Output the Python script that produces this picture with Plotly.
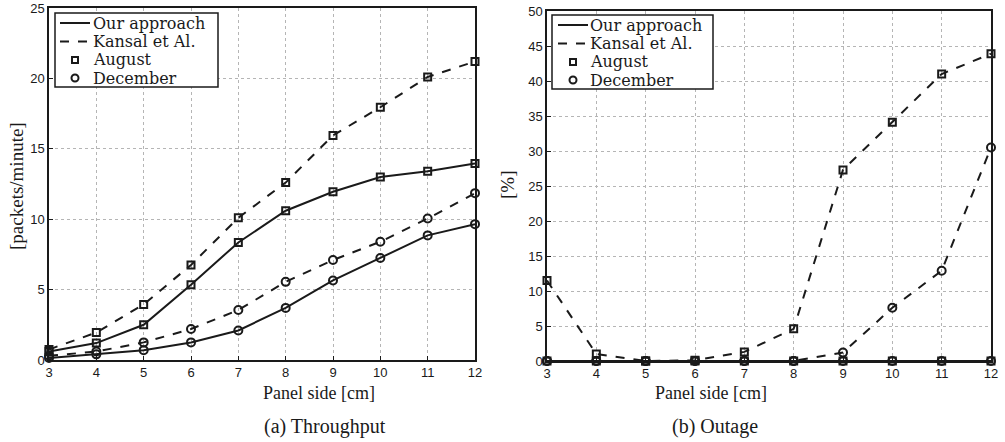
import plotly.graph_objects as go

panel_side = [3, 4, 5, 6, 7, 8, 9, 10, 11, 12]

# (a) Throughput [packets/minute]
thr_ours_aug = [0.6, 1.2, 2.5, 5.35, 8.35, 10.6, 11.95, 13.0, 13.4, 13.95]
thr_kansal_aug = [0.75, 1.95, 3.95, 6.75, 10.1, 12.6, 15.95, 17.95, 20.1, 21.2]
thr_ours_dec = [0.15, 0.4, 0.7, 1.25, 2.1, 3.7, 5.65, 7.25, 8.85, 9.65]
thr_kansal_dec = [0.3, 0.6, 1.25, 2.2, 3.55, 5.55, 7.1, 8.4, 10.05, 11.85]

# (b) Outage [%]
out_ours_aug = [0, 0, 0, 0, 0, 0, 0, 0, 0, 0]
out_kansal_aug = [11.5, 1.0, 0.0, 0.1, 1.3, 4.6, 27.3, 34.1, 41.0, 43.9]
out_ours_dec = [0, 0, 0, 0, 0, 0, 0, 0, 0, 0]
out_kansal_dec = [0.0, 0.0, 0.0, 0.0, 0.0, 0.0, 1.2, 7.6, 12.9, 30.5]

x_ticks = [3, 4, 5, 6, 7, 8, 9, 10, 11, 12]
thr_ticks = [0, 5, 10, 15, 20, 25]
out_ticks = [0, 5, 10, 15, 20, 25, 30, 35, 40, 45, 50]

legend_labels = ["Our approach", "Kansal et Al.", "August", "December"]

INK = "#1a1a1a"
SERIF = "Liberation Serif, DejaVu Serif, serif"
LEG_SERIF = "DejaVu Serif, Liberation Serif, serif"
SANS = "Liberation Sans, Arial, sans-serif"

W, H = 1005, 442


def px(x):
    return x / W


def py(y):
    return (H - y) / H


fig = go.Figure()


def add_series(x, y, dash, symbol, xa, ya):
    fig.add_trace(go.Scatter(
        x=x, y=y, mode="lines+markers", xaxis=xa, yaxis=ya,
        line=dict(color=INK, width=2, dash=dash),
        marker=dict(symbol=symbol, size=7 if symbol == "square-open" else 8,
                    color=INK, line=dict(color=INK, width=2)),
        cliponaxis=False, showlegend=False, hoverinfo="skip"))


add_series(panel_side, thr_kansal_aug, "dash", "square-open", "x", "y")
add_series(panel_side, thr_ours_aug, "solid", "square-open", "x", "y")
add_series(panel_side, thr_kansal_dec, "dash", "circle-open", "x", "y")
add_series(panel_side, thr_ours_dec, "solid", "circle-open", "x", "y")

add_series(panel_side, out_kansal_aug, "dash", "square-open", "x2", "y2")
add_series(panel_side, out_kansal_dec, "dash", "circle-open", "x2", "y2")
add_series(panel_side, out_ours_aug, "solid", "square-open", "x2", "y2")
add_series(panel_side, out_ours_dec, "solid", "circle-open", "x2", "y2")

axis_common = dict(
    showline=True, mirror=True, linecolor=INK, linewidth=1.5,
    ticks="inside", ticklen=4, tickcolor=INK,
    showgrid=True, gridcolor="#b5b5b5", griddash="dot", gridwidth=1,
    zeroline=False, tickfont=dict(family=SANS, size=13, color=INK),
    automargin=False, ticklabeloverflow="allow",
)

shapes = []
annotations = []


def add_legend(box, line_x0, line_x1, text_x, rows):
    x0, y0, x1, y1 = box
    shapes.append(dict(type="rect", xref="paper", yref="paper",
                       x0=px(x0), x1=px(x1), y0=py(y1), y1=py(y0),
                       line=dict(color=INK, width=1.5), fillcolor="white", layer="above"))
    mid = (line_x0 + line_x1) / 2
    for i, (label, ry) in enumerate(zip(legend_labels, rows)):
        if i == 0:
            shapes.append(dict(type="line", xref="paper", yref="paper",
                               x0=px(line_x0), x1=px(line_x1), y0=py(ry), y1=py(ry),
                               line=dict(color=INK, width=2), layer="above"))
        elif i == 1:
            shapes.append(dict(type="line", xref="paper", yref="paper",
                               x0=px(line_x0), x1=px(line_x1), y0=py(ry), y1=py(ry),
                               line=dict(color=INK, width=2, dash="dash"), layer="above"))
        elif i == 2:
            shapes.append(dict(type="rect", xref="paper", yref="paper",
                               x0=px(mid - 3), x1=px(mid + 3), y0=py(ry + 3), y1=py(ry - 3),
                               line=dict(color=INK, width=2), layer="above"))
        else:
            shapes.append(dict(type="circle", xref="paper", yref="paper",
                               x0=px(mid - 3.5), x1=px(mid + 3.5), y0=py(ry + 3.5), y1=py(ry - 3.5),
                               line=dict(color=INK, width=2), layer="above"))
        annotations.append(dict(text=label, x=px(text_x), y=py(ry), xref="paper", yref="paper",
                                xanchor="left", yanchor="middle", showarrow=False, borderpad=0,
                                font=dict(family=LEG_SERIF, size=16, color=INK)))


add_legend((55, 13, 218, 87), 60, 90, 92, [23, 41.5, 60, 78])
add_legend((552, 15, 713, 89), 558, 588, 589, [25, 43.5, 62, 80])

title_font = dict(family=SERIF, size=18, color=INK)
annotations += [
    dict(text="Panel side [cm]", x=px(262), y=py(393), xref="paper", yref="paper",
         showarrow=False, font=title_font, yanchor="middle", borderpad=0),
    dict(text="Panel side [cm]", x=px(768), y=py(393), xref="paper", yref="paper",
         showarrow=False, font=title_font, yanchor="middle", borderpad=0),
    dict(text="[packets/minute]", x=px(17), y=py(186), xref="paper", yref="paper",
         showarrow=False, font=dict(family=SERIF, size=19, color=INK), textangle=-90,
         xanchor="center", yanchor="middle"),
    dict(text="[%]", x=px(508), y=py(185), xref="paper", yref="paper",
         showarrow=False, font=dict(family=SERIF, size=19, color=INK), textangle=-90,
         xanchor="center", yanchor="middle"),
    dict(text="(a) Throughput", x=px(262), y=py(426), xref="paper", yref="paper",
         showarrow=False, font=dict(family=SERIF, size=20, color=INK), yanchor="middle"),
    dict(text="(b) Outage", x=px(760), y=py(426), xref="paper", yref="paper",
         showarrow=False, font=dict(family=SERIF, size=20, color=INK), yanchor="middle"),
]

fig.update_layout(
    width=W, height=H,
    margin=dict(l=0, r=0, t=0, b=0),
    paper_bgcolor="white", plot_bgcolor="white",
    showlegend=False,
    xaxis=dict(domain=[px(49), px(475)], range=[3, 12], tickvals=x_ticks, anchor="y", **axis_common),
    yaxis=dict(domain=[py(360), py(8)], range=[0, 25], tickvals=thr_ticks, anchor="x", **axis_common),
    xaxis2=dict(domain=[px(547), px(991)], range=[3, 12], tickvals=x_ticks, anchor="y2", **axis_common),
    yaxis2=dict(domain=[py(361), py(11)], range=[0, 50], tickvals=out_ticks, anchor="x2", **axis_common),
    shapes=shapes,
    annotations=annotations,
)

fig.write_html("out.html", config={"displayModeBar": False},
               post_script="document.body.style.margin='0';document.body.style.overflow='hidden';")
